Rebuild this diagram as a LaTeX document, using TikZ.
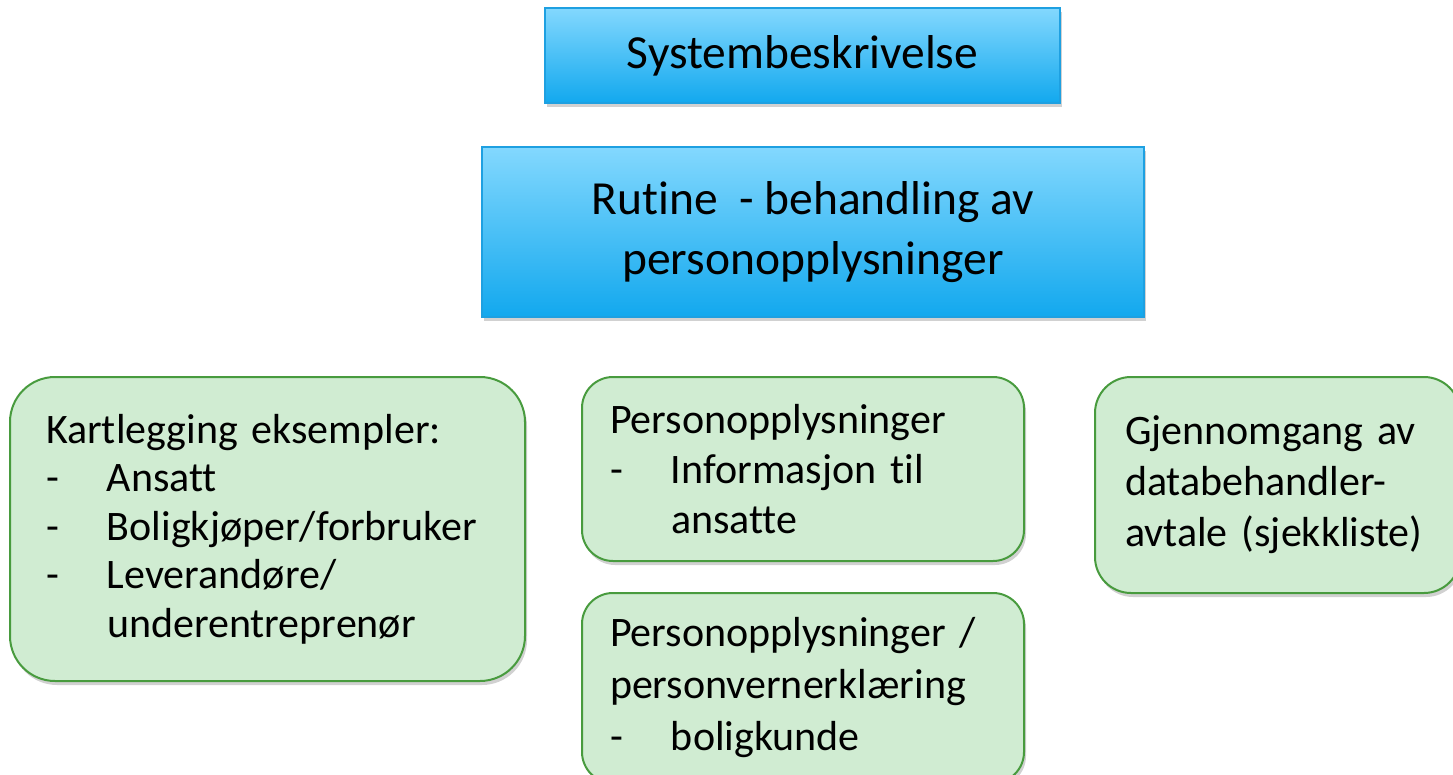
\documentclass[tikz,border=0pt]{standalone}
\usepackage{fontspec}
\setmainfont{Carlito}[Ligatures=NoCommon]
\usetikzlibrary{shadows}
\definecolor{bluetop}{RGB}{131,216,254}
\definecolor{bluebot}{RGB}{18,168,238}
\definecolor{blueline}{RGB}{30,160,225}
\definecolor{greenfill}{RGB}{208,236,210}
\definecolor{greenline}{RGB}{72,155,62}
\newcommand{\dashitem}[1]{\makebox[61pt][l]{-}#1}
\newcommand{\indentitem}[1]{\hspace*{61pt}#1}
\begin{document}
\begin{tikzpicture}[x=1pt,y=-1pt,
  boxshadow/.style={drop shadow={shadow xshift=2pt,shadow yshift=-4pt,opacity=0.3,fill=black!60}},
  bluebox/.style={draw=blueline, line width=1.5pt, top color=bluetop, bottom color=bluebot,
    boxshadow, align=center, inner sep=0pt, font=\fontsize{47.5}{60}\selectfont},
  greenbox/.style={draw=greenline, line width=2pt, fill=greenfill, boxshadow,
    align=left, rounded corners=#1, inner ysep=0pt},
]
\useasboundingbox (0,0) rectangle (1453,775);
\clip (0,0) rectangle (1453,775);

\node[bluebox, minimum width=515pt, minimum height=95pt] (sys) at (802.5,55.5) {Systembeskrivelse};
\node[bluebox, minimum width=662pt, minimum height=170pt] (rut) at (813,232)
  {Rutine\ \ - behandling av\\personopplysninger};

\node[greenbox=45pt, minimum width=515pt, minimum height=304pt, inner xsep=36pt,
  text width=443pt, font=\fontsize{42}{48.5}\selectfont] (kart) at (267.5,529)
  {Kartlegging eksempler:\\\dashitem{Ansatt}\\\dashitem{Boligkjøper/forbruker}\\\dashitem{Leverandøre/}\\\indentitem{underentreprenør}};

\node[greenbox=31pt, minimum width=442pt, minimum height=184pt, inner xsep=28pt,
  text width=386pt, font=\fontsize{42}{50}\selectfont] (pers) at (803,469)
  {Personopplysninger\\\dashitem{Informasjon til}\\\indentitem{ansatte}};

\node[greenbox=31pt, minimum width=442pt, minimum height=190pt, inner xsep=28pt,
  text width=386pt, font=\fontsize{42}{52}\selectfont] (verk) at (803,688)
  {Personopplysninger /\\personvernerklæring\\\dashitem{boligkunde}};

\node[greenbox=36pt, minimum width=365pt, minimum height=216pt, inner xsep=30pt,
  text width=305pt, font=\fontsize{42}{51}\selectfont] (gjen) at (1277.5,485)
  {Gjennomgang av\\databehandler-\\avtale (sjekkliste)};
\end{tikzpicture}
\end{document}
